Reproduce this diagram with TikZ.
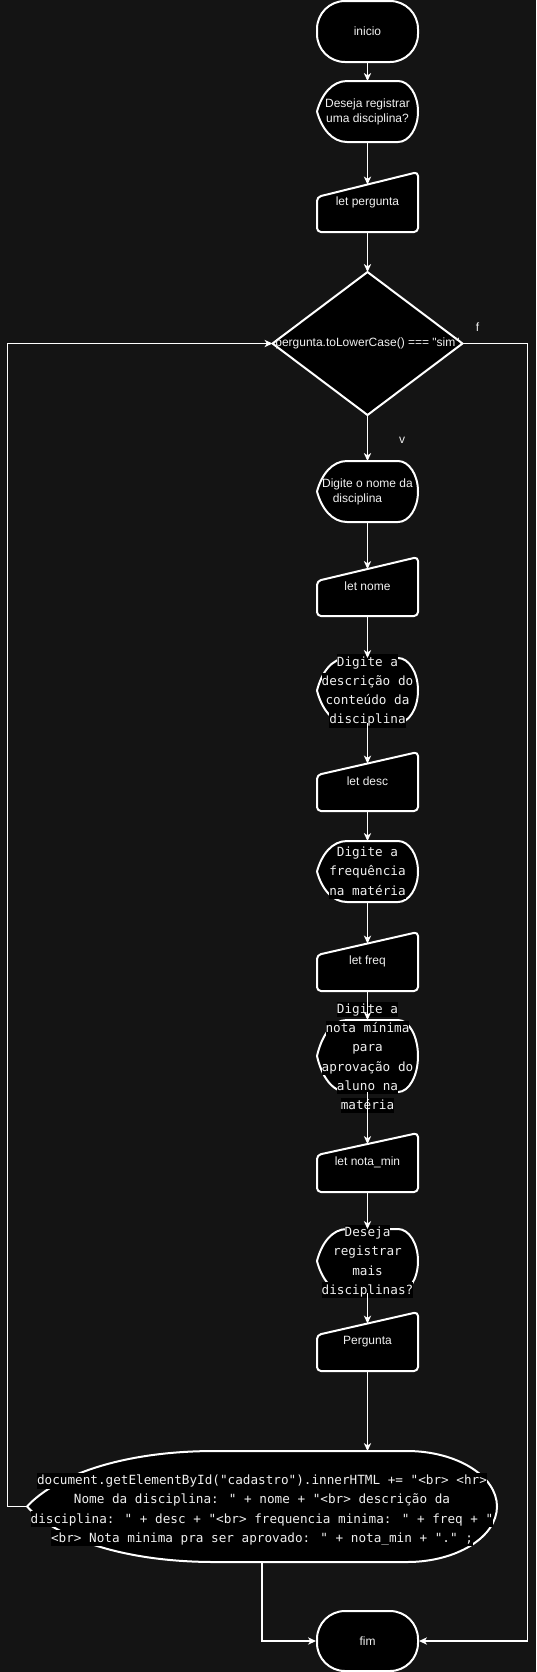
\documentclass[tikz,border=0pt]{standalone}
\usepackage{fontspec}
\setmainfont{Liberation Sans}[Ligatures=TeXOff]
\newfontfamily\monof{DejaVu Sans Mono}[Ligatures=TeXOff]
\usetikzlibrary{arrows.meta,calc}
\definecolor{bgc}{HTML}{141414}
\definecolor{txt}{HTML}{F0F0F0}
\newcommand\hl[1]{{\setlength\fboxsep{0pt}\colorbox{black}{\rule[-3pt]{0pt}{11.9pt}#1}}}
\pgfdeclarelayer{back}
\pgfsetlayers{back,main}
% display shape drawn from a frame node: #1 node, #2 left inset px, #3 right inset px
\newcommand\dispshape[3]{%
  \path[shp] let \p1=(#1.north west), \p2=(#1.south east) in
    (\x1,{0.5*(\y1+\y2)})
    .. controls ({\x1+0.15*#2*0.75pt},{0.5*(\y1+\y2)+0.275*(\y1-\y2)}) and ({\x1+0.5*#2*0.75pt},\y1) .. ({\x1+#2*0.75pt},\y1)
    -- ({\x2-#3*0.75pt},\y1)
    .. controls ({\x2-0.45*#3*0.75pt},\y1) and (\x2,{0.5*(\y1+\y2)+0.275*(\y1-\y2)}) .. (\x2,{0.5*(\y1+\y2)})
    .. controls (\x2,{0.5*(\y1+\y2)-0.275*(\y1-\y2)}) and ({\x2-0.45*#3*0.75pt},\y2) .. ({\x2-#3*0.75pt},\y2)
    -- ({\x1+#2*0.75pt},\y2)
    .. controls ({\x1+0.5*#2*0.75pt},\y2) and ({\x1+0.15*#2*0.75pt},{0.5*(\y1+\y2)-0.275*(\y1-\y2)}) .. (\x1,{0.5*(\y1+\y2)})
    -- cycle;}
% manual input shape: #1 node, #2 slant px
\newcommand\mishape[2]{%
  \path[shp, rounded corners=3pt] let \p1=(#1.north west), \p2=(#1.south east) in
    (\x1,{\y1-#2*0.75pt}) -- (\x2,\y1) -- (\x2,\y2) -- (\x1,\y2) -- cycle;}
\begin{document}
\begin{tikzpicture}[x=0.75pt,y=-0.75pt,
  fr/.style={rectangle, inner sep=0pt, outer sep=0pt, minimum width=75.75pt},
  term/.style={rectangle, rounded corners=21pt, draw=white, fill=black, line width=1.5pt,
    minimum width=75.75pt, minimum height=45.75pt, inner sep=0pt, text=txt,
    font=\fontsize{9pt}{11.25pt}\selectfont},
  shp/.style={draw=white, fill=black, line width=1.5pt, line join=round},
  lbl/.style={text=txt, font=\fontsize{9pt}{11.25pt}\selectfont, align=center, inner sep=0pt},
  mono/.style={text=txt, font=\monof\fontsize{9.5pt}{14.4pt}\selectfont, align=center, inner sep=0pt},
  conn/.style={draw=white, line width=0.8pt, -{Stealth[length=6pt,width=5.5pt,inset=1.8pt]}}
]
\begin{pgfonlayer}{back}
\fill[bgc] (0,0) rectangle (536,1672);
\end{pgfonlayer}
\useasboundingbox (0,0) rectangle (536,1672);

% ---- frames ----
\node[term] (inicio) at (367.5,31.5) {inicio};
\node[fr, minimum height=45.75pt] (d1) at (367.5,111.5) {};
\node[fr, minimum height=45pt] (mi1) at (367.5,202) {};
\node[fr, minimum width=142.5pt, minimum height=107.25pt] (dia) at (367.5,343.5) {};
\node[fr, minimum height=45.75pt] (d2) at (367.5,491.5) {};
\node[fr, minimum height=44.25pt] (mi2) at (367.5,586.5) {};
\node[fr, minimum height=48.75pt] (d3) at (367.5,690.5) {};
\node[fr, minimum height=44.25pt] (mi3) at (367.5,781.5) {};
\node[fr, minimum height=45.75pt] (d4) at (367.5,871.5) {};
\node[fr, minimum height=44.25pt] (mi4) at (367.5,961.5) {};
\node[fr, minimum height=54pt] (d5) at (367.5,1056) {};
\node[fr, minimum height=44.25pt] (mi5) at (367.5,1162.5) {};
\node[fr, minimum height=48pt] (d6) at (367.5,1261) {};
\node[fr, minimum height=44.25pt] (mi6) at (367.5,1341.5) {};
\node[fr, minimum width=352.5pt, minimum height=83.25pt] (big) at (262,1506.5) {};
\node[term, minimum height=45pt] (fim) at (367.5,1641) {fim};

\coordinate (lft) at (7.5,0);
\coordinate (rgt) at (527.5,0);
\coordinate (mi1in) at ($(mi1.north)+(0,12.5)$);
\coordinate (mi2in) at ($(mi2.north)+(0,12)$);
\coordinate (mi3in) at ($(mi3.north)+(0,11.5)$);
\coordinate (mi4in) at ($(mi4.north)+(0,11.5)$);
\coordinate (mi5in) at ($(mi5.north)+(0,11)$);
\coordinate (mi6in) at ($(mi6.north)+(0,11.5)$);

% ---- shapes ----
\begin{pgfonlayer}{back}
\dispshape{d1}{30}{20}
\mishape{mi1}{25}
\path[shp] (dia.north) -- (dia.east) -- (dia.south) -- (dia.west) -- cycle;
\dispshape{d2}{30}{20}
\mishape{mi2}{24}
\dispshape{d3}{30}{20}
\mishape{mi3}{23}
\dispshape{d4}{30}{20}
\mishape{mi4}{23}
\dispshape{d5}{30}{20}
\mishape{mi5}{22}
\dispshape{d6}{30}{20}
\mishape{mi6}{23}
\dispshape{big}{188}{90}
\end{pgfonlayer}

% ---- texts ----
\node[lbl] (d1t) at (d1.center) {Deseja registrar\\uma disciplina?};
\node[lbl] (mi1t) at (mi1.center) {let pergunta};
\node[lbl] (diat) at (dia.center) {pergunta.toLowerCase() === "sim"};
\node[lbl] (d2t) at (d2.center) {Digite o nome da\\disciplina\rule{15pt}{0pt}};
\node[lbl] (mi2t) at (mi2.center) {let nome};
\node[mono] (d3t) at (367.5,691) {\hl{Digite a}\\\hl{descrição do}\\\hl{conteúdo da}\\\hl{disciplina}};
\node[lbl] (mi3t) at (mi3.center) {let desc};
\node[mono] (d4t) at (367.5,872) {\hl{Digite a}\\\hl{frequência}\\\hl{na matéria}};
\node[lbl] (mi4t) at (mi4.center) {let freq};
\node[mono] (d5t) at (367.5,1057.5) {\hl{Digite a}\\\hl{nota mínima}\\\hl{para}\\\hl{aprovação do}\\\hl{aluno na}\\\hl{matéria}};
\node[lbl] (mi5t) at (mi5.center) {let nota\_min};
\node[mono] (d6t) at (367.5,1261.5) {\hl{Deseja}\\\hl{registrar}\\\hl{mais}\\\hl{disciplinas?}};
\node[lbl] (mi6t) at (mi6.center) {Pergunta};
\node[mono] (bigt) at (262,1509.5) {\hl{document.getElementById("cadastro").innerHTML += "<br> <hr>}\\\hl{Nome da disciplina: " + nome + "<br> descrição da}\\\hl{disciplina: " + desc + "<br> frequencia minima: " + freq + "}\\\hl{<br> Nota minima pra ser aprovado: " + nota\_min + "." ;}};
\node[lbl] (flab) at (477.6,327) {f};
\node[lbl] (vlab) at (402,440) {v};

% ---- connectors ----
\draw[conn] (inicio.south) -- (d1.north);
\draw[conn] (d1.south) -- (mi1in);
\draw[conn] (mi1.south) -- (dia.north);
\draw[conn] (dia.south) -- (d2.north);
\draw[conn] (d2.south) -- (mi2in);
\draw[conn] (mi2.south) -- (d3.north);
\draw[conn] (d3.south) -- (mi3in);
\draw[conn] (mi3.south) -- (d4.north);
\draw[conn] (d4.south) -- (mi4in);
\draw[conn] (mi4.south) -- (d5.north);
\draw[conn] (d5.south) -- (mi5in);
\draw[conn] (mi5.south) -- (d6.north);
\draw[conn] (d6.south) -- (mi6in);
\draw[conn] (mi6.south) -- (mi6.south |- big.north);
\draw[conn] (big.west) -- (big.west -| lft) |- (dia.west);
\draw[conn] (dia.east) -- (dia.east -| rgt) |- (fim.east);
\draw[conn] (big.south) |- (fim.west);
\end{tikzpicture}
\end{document}
